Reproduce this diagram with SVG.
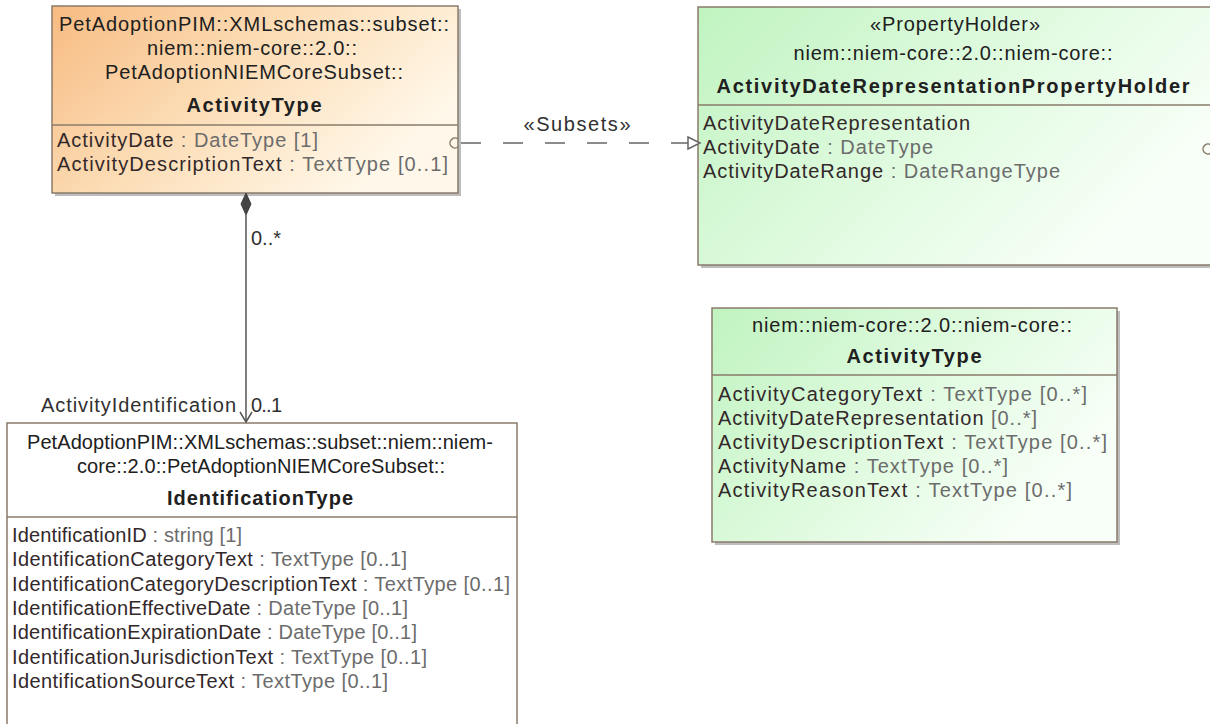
<svg xmlns="http://www.w3.org/2000/svg" width="1210" height="724" viewBox="0 0 1210 724">
<defs>
<linearGradient id="gOr" x1="0" y1="0" x2="1" y2="0.5"><stop offset="0" stop-color="#F7BB82"/><stop offset="0.5" stop-color="#FCDDB6"/><stop offset="1" stop-color="#FFF8EA"/></linearGradient>
<linearGradient id="gGr" x1="0" y1="0" x2="1" y2="0.5"><stop offset="0" stop-color="#C0F3C0"/><stop offset="0.5" stop-color="#DDFADD"/><stop offset="1" stop-color="#F8FFF8"/></linearGradient>
<style>
text{font-family:"Liberation Sans",Arial,sans-serif;font-size:20px}
.h{fill:#202020;text-anchor:middle}
.b{font-weight:bold}
.a{fill:#33282a}
.t{fill:#6c6c6c}
.box{stroke:#8a7b6b;stroke-width:1.5}
.sh{fill:#bdbdbd}
.dv{stroke:#8a7b6b;stroke-width:1.5}
.lbl{fill:#303030}
.ln{stroke:#555;stroke-width:1.5;fill:none}
.port{fill:none;stroke:#8a7b6b;stroke-width:1.5}
</style>
</defs>

<g id="node-activitytype-subset">
<rect class="sh" x="55" y="9" width="406" height="187"/>
<rect class="box" x="52" y="6" width="406" height="187" fill="url(#gOr)"/>
<line class="dv" x1="52" y1="125" x2="458" y2="125"/>
<text class="h" x="254" y="31" textLength="390" lengthAdjust="spacing">PetAdoptionPIM::XMLschemas::subset::</text>
<text class="h" x="252" y="55" textLength="210" lengthAdjust="spacing">niem::niem-core::2.0::</text>
<text class="h" x="254" y="79" textLength="298" lengthAdjust="spacing">PetAdoptionNIEMCoreSubset::</text>
<text class="h b" x="254" y="112" textLength="135" lengthAdjust="spacing">ActivityType</text>
<text class="a" x="57" y="147" textLength="261" lengthAdjust="spacing">ActivityDate<tspan class="t"> : DateType [1]</tspan></text>
<text class="a" x="57" y="171" textLength="391" lengthAdjust="spacing">ActivityDescriptionText<tspan class="t"> : TextType [0..1]</tspan></text>
<path class="port" d="M458,139 A5,5 0 1 0 458,147"/>
</g>

<g id="node-propertyholder">
<rect class="sh" x="701" y="10" width="514" height="258"/>
<rect class="box" x="698" y="7" width="514" height="258" fill="url(#gGr)"/>
<line class="dv" x1="698" y1="105" x2="1212" y2="105"/>
<text class="h" x="955" y="31" textLength="170" lengthAdjust="spacing">«PropertyHolder»</text>
<text class="h" x="953" y="60" textLength="319" lengthAdjust="spacing">niem::niem-core::2.0::niem-core::</text>
<text class="h b" x="953" y="93" textLength="473" lengthAdjust="spacing">ActivityDateRepresentationPropertyHolder</text>
<text class="a" x="703" y="130" textLength="267" lengthAdjust="spacing">ActivityDateRepresentation</text>
<text class="a" x="703" y="154" textLength="230" lengthAdjust="spacing">ActivityDate<tspan class="t"> : DateType</tspan></text>
<text class="a" x="703" y="178" textLength="357" lengthAdjust="spacing">ActivityDateRange<tspan class="t"> : DateRangeType</tspan></text>
<path class="port" d="M1211,145 A5,5 0 1 0 1211,153"/>
</g>

<g id="node-identificationtype">
<rect class="box" x="7" y="423" width="510" height="310" fill="#ffffff"/>
<line class="dv" x1="7" y1="517" x2="517" y2="517"/>
<text class="h" x="260" y="449" textLength="466" lengthAdjust="spacing">PetAdoptionPIM::XMLschemas::subset::niem::niem-</text>
<text class="h" x="261" y="473" textLength="368" lengthAdjust="spacing">core::2.0::PetAdoptionNIEMCoreSubset::</text>
<text class="h b" x="260" y="505" textLength="186" lengthAdjust="spacing">IdentificationType</text>
<text class="a" x="12" y="542" textLength="230" lengthAdjust="spacing">IdentificationID<tspan class="t"> : string [1]</tspan></text>
<text class="a" x="12" y="566" textLength="395" lengthAdjust="spacing">IdentificationCategoryText<tspan class="t"> : TextType [0..1]</tspan></text>
<text class="a" x="12" y="591" textLength="498" lengthAdjust="spacing">IdentificationCategoryDescriptionText<tspan class="t"> : TextType [0..1]</tspan></text>
<text class="a" x="12" y="615" textLength="396" lengthAdjust="spacing">IdentificationEffectiveDate<tspan class="t"> : DateType [0..1]</tspan></text>
<text class="a" x="12" y="639" textLength="405" lengthAdjust="spacing">IdentificationExpirationDate<tspan class="t"> : DateType [0..1]</tspan></text>
<text class="a" x="12" y="664" textLength="415" lengthAdjust="spacing">IdentificationJurisdictionText<tspan class="t"> : TextType [0..1]</tspan></text>
<text class="a" x="12" y="688" textLength="376" lengthAdjust="spacing">IdentificationSourceText<tspan class="t"> : TextType [0..1]</tspan></text>
</g>

<g id="node-activitytype-core">
<rect class="sh" x="715" y="311" width="405" height="234"/>
<rect class="box" x="712" y="308" width="405" height="234" fill="url(#gGr)"/>
<line class="dv" x1="712" y1="375" x2="1117" y2="375"/>
<text class="h" x="912" y="332" textLength="320" lengthAdjust="spacing">niem::niem-core::2.0::niem-core::</text>
<text class="h b" x="914" y="363" textLength="135" lengthAdjust="spacing">ActivityType</text>
<text class="a" x="718" y="401" textLength="369" lengthAdjust="spacing">ActivityCategoryText<tspan class="t"> : TextType [0..*]</tspan></text>
<text class="a" x="718" y="425" textLength="319" lengthAdjust="spacing">ActivityDateRepresentation<tspan class="t"> [0..*]</tspan></text>
<text class="a" x="718" y="449" textLength="389" lengthAdjust="spacing">ActivityDescriptionText<tspan class="t"> : TextType [0..*]</tspan></text>
<text class="a" x="718" y="473" textLength="290" lengthAdjust="spacing">ActivityName<tspan class="t"> : TextType [0..*]</tspan></text>
<text class="a" x="718" y="497" textLength="354" lengthAdjust="spacing">ActivityReasonText<tspan class="t"> : TextType [0..*]</tspan></text>
</g>

<g id="connectors">
<g id="subsets">
<line x1="461" y1="143" x2="688" y2="143" stroke="#666" stroke-width="1.5" stroke-dasharray="20 22"/>
<polygon points="688,137 700,143 688,149" fill="#ffffff" stroke="#666" stroke-width="1.5"/>
<text class="lbl" x="577" y="131" text-anchor="middle" textLength="107" lengthAdjust="spacing">«Subsets»</text>
</g>
<g id="activityidentification">
<line class="ln" x1="246" y1="215" x2="246" y2="422"/>
<polygon points="246,193 251,204 246,215 241,204" fill="#444" stroke="#444" stroke-width="1"/>
<polyline class="ln" points="240,412 246,422 252,412"/>
<text class="lbl" x="251" y="245" textLength="30" lengthAdjust="spacing">0..*</text>
<text class="lbl" x="236" y="412" text-anchor="end" textLength="195" lengthAdjust="spacing">ActivityIdentification</text>
<text class="lbl" x="251" y="412" textLength="31" lengthAdjust="spacing">0..1</text>
</g>
</g>
</svg>
